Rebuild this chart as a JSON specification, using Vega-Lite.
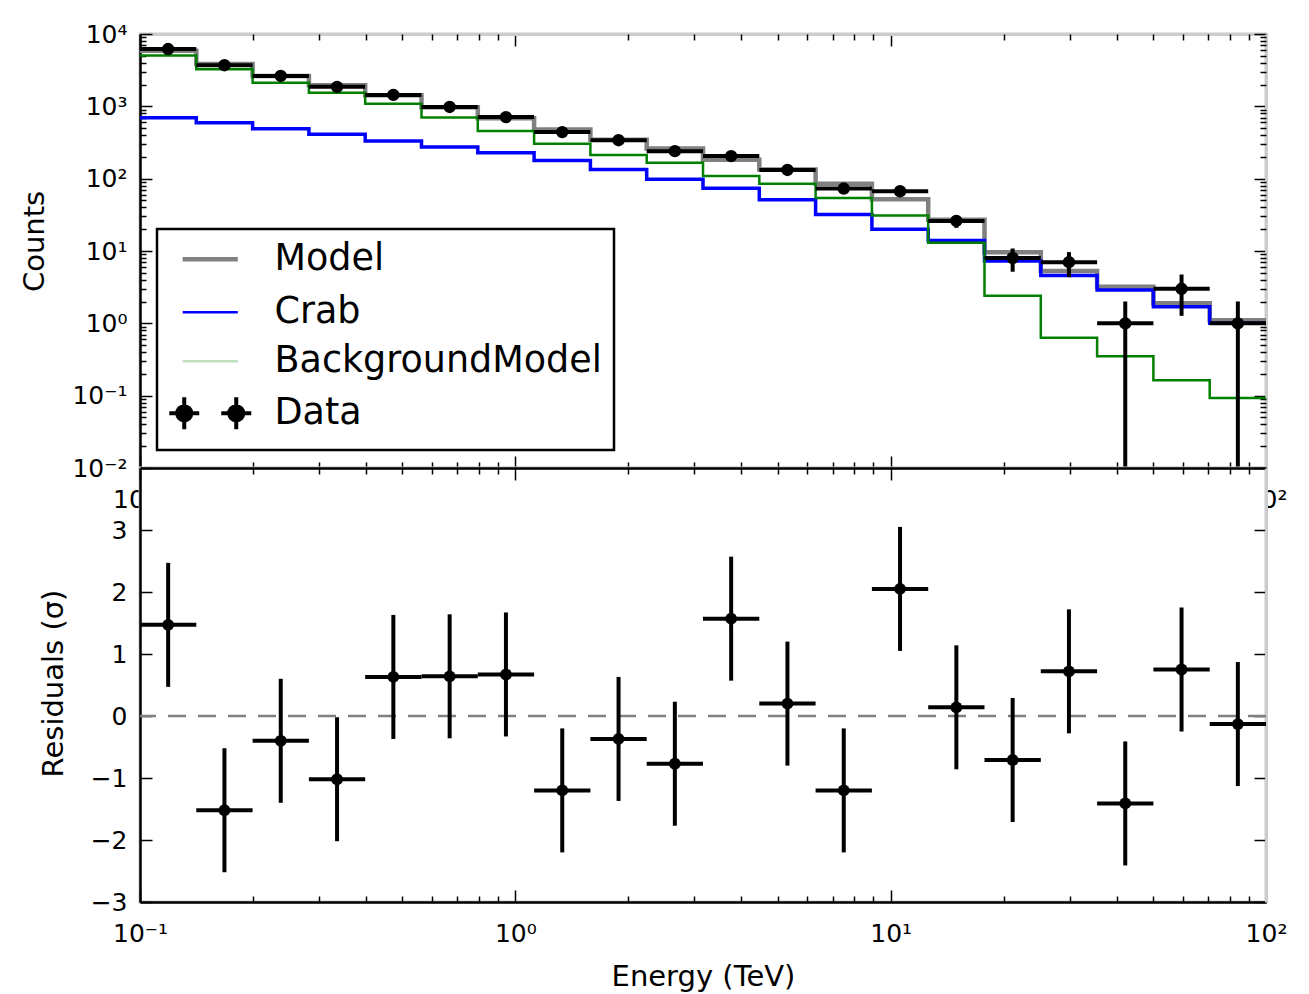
{
  "$schema": "https://vega.github.io/schema/vega-lite/v6.json",
  "padding": {"left": 18, "top": 20, "right": 10, "bottom": 5},
  "background": "white",
  "spacing": 0,
  "bounds": "flush",
  "config": {
    "font": "DejaVu Sans",
    "view": {"stroke": "#cccccc", "strokeWidth": 3, "fill": "white"},
    "axis": {"grid": false, "domainColor": "black", "domainWidth": 2.5, "tickColor": "black", "tickWidth": 1.5,
      "labelFontSize": 25, "labelColor": "black", "labelFont": "DejaVu Sans", "titleFont": "DejaVu Sans",
      "titleFontSize": 29, "titleFontWeight": "normal", "titleColor": "black",
      "labelFlush": false, "labelOverlap": false, "labelBound": false}
  },
  "datasets": {
    "bins": [
      {"e_lo": 0.1, "e_hi": 0.14125, "e_c": 0.11885, "counts": 6200, "c_lo": 6121, "c_hi": 6279, "resid": 1.47, "r_lo": 0.47, "r_hi": 2.47},
      {"e_lo": 0.14125, "e_hi": 0.19953, "e_c": 0.16788, "counts": 3700, "c_lo": 3639, "c_hi": 3761, "resid": -1.52, "r_lo": -2.52, "r_hi": -0.52},
      {"e_lo": 0.19953, "e_hi": 0.28184, "e_c": 0.23714, "counts": 2630, "c_lo": 2579, "c_hi": 2681, "resid": -0.40, "r_lo": -1.40, "r_hi": 0.60},
      {"e_lo": 0.28184, "e_hi": 0.39811, "e_c": 0.33497, "counts": 1860, "c_lo": 1817, "c_hi": 1903, "resid": -1.02, "r_lo": -2.02, "r_hi": -0.02},
      {"e_lo": 0.39811, "e_hi": 0.56234, "e_c": 0.47315, "counts": 1440, "c_lo": 1402, "c_hi": 1478, "resid": 0.63, "r_lo": -0.37, "r_hi": 1.63},
      {"e_lo": 0.56234, "e_hi": 0.79433, "e_c": 0.66834, "counts": 980, "c_lo": 949, "c_hi": 1011, "resid": 0.64, "r_lo": -0.36, "r_hi": 1.64},
      {"e_lo": 0.79433, "e_hi": 1.12202, "e_c": 0.94406, "counts": 710, "c_lo": 683, "c_hi": 737, "resid": 0.67, "r_lo": -0.33, "r_hi": 1.67},
      {"e_lo": 1.12202, "e_hi": 1.58489, "e_c": 1.33352, "counts": 440, "c_lo": 419, "c_hi": 461, "resid": -1.20, "r_lo": -2.20, "r_hi": -0.20},
      {"e_lo": 1.58489, "e_hi": 2.23872, "e_c": 1.88365, "counts": 340, "c_lo": 322, "c_hi": 358, "resid": -0.37, "r_lo": -1.37, "r_hi": 0.63},
      {"e_lo": 2.23872, "e_hi": 3.16228, "e_c": 2.66073, "counts": 240, "c_lo": 224.5, "c_hi": 255.5, "resid": -0.77, "r_lo": -1.77, "r_hi": 0.23},
      {"e_lo": 3.16228, "e_hi": 4.46684, "e_c": 3.75837, "counts": 205, "c_lo": 190.7, "c_hi": 219.3, "resid": 1.57, "r_lo": 0.57, "r_hi": 2.57},
      {"e_lo": 4.46684, "e_hi": 6.30957, "e_c": 5.30884, "counts": 132, "c_lo": 120.5, "c_hi": 143.5, "resid": 0.20, "r_lo": -0.80, "r_hi": 1.20},
      {"e_lo": 6.30957, "e_hi": 8.91251, "e_c": 7.49894, "counts": 73, "c_lo": 64.5, "c_hi": 81.5, "resid": -1.20, "r_lo": -2.20, "r_hi": -0.20},
      {"e_lo": 8.91251, "e_hi": 12.5893, "e_c": 10.5925, "counts": 67, "c_lo": 58.8, "c_hi": 75.2, "resid": 2.05, "r_lo": 1.05, "r_hi": 3.05},
      {"e_lo": 12.5893, "e_hi": 17.7828, "e_c": 14.9624, "counts": 26, "c_lo": 20.9, "c_hi": 31.1, "resid": 0.14, "r_lo": -0.86, "r_hi": 1.14},
      {"e_lo": 17.7828, "e_hi": 25.1189, "e_c": 21.1349, "counts": 8, "c_lo": 5.17, "c_hi": 10.83, "resid": -0.71, "r_lo": -1.71, "r_hi": 0.29},
      {"e_lo": 25.1189, "e_hi": 35.4813, "e_c": 29.8538, "counts": 7, "c_lo": 4.35, "c_hi": 9.65, "resid": 0.72, "r_lo": -0.28, "r_hi": 1.72},
      {"e_lo": 35.4813, "e_hi": 50.1187, "e_c": 42.1697, "counts": 1, "c_lo": 0.01, "c_hi": 2, "resid": -1.41, "r_lo": -2.41, "r_hi": -0.41},
      {"e_lo": 50.1187, "e_hi": 70.7946, "e_c": 59.5662, "counts": 3, "c_lo": 1.27, "c_hi": 4.73, "resid": 0.75, "r_lo": -0.25, "r_hi": 1.75},
      {"e_lo": 70.7946, "e_hi": 100, "e_c": 84.1395, "counts": 1, "c_lo": 0.01, "c_hi": 2, "resid": -0.13, "r_lo": -1.13, "r_hi": 0.87}
    ],
    "steps": [
      {"e": 0.1, "Model": 5850, "Crab": 695, "BackgroundModel": 5050},
      {"e": 0.14125, "Model": 3850, "Crab": 593, "BackgroundModel": 3250},
      {"e": 0.19953, "Model": 2620, "Crab": 490, "BackgroundModel": 2120},
      {"e": 0.28184, "Model": 1950, "Crab": 410, "BackgroundModel": 1540},
      {"e": 0.39811, "Model": 1420, "Crab": 331, "BackgroundModel": 1090},
      {"e": 0.56234, "Model": 970, "Crab": 274, "BackgroundModel": 700},
      {"e": 0.79433, "Model": 685, "Crab": 228, "BackgroundModel": 455},
      {"e": 1.12202, "Model": 480, "Crab": 179, "BackgroundModel": 304},
      {"e": 1.58489, "Model": 346, "Crab": 134, "BackgroundModel": 212},
      {"e": 2.23872, "Model": 262, "Crab": 98, "BackgroundModel": 166},
      {"e": 3.16228, "Model": 183, "Crab": 74, "BackgroundModel": 109},
      {"e": 4.46684, "Model": 134, "Crab": 51, "BackgroundModel": 85},
      {"e": 6.30957, "Model": 85, "Crab": 32, "BackgroundModel": 54},
      {"e": 8.91251, "Model": 52, "Crab": 20, "BackgroundModel": 31},
      {"e": 12.5893, "Model": 27, "Crab": 14, "BackgroundModel": 13},
      {"e": 17.7828, "Model": 9.6, "Crab": 7.3, "BackgroundModel": 2.4},
      {"e": 25.1189, "Model": 5.3, "Crab": 4.6, "BackgroundModel": 0.63},
      {"e": 35.4813, "Model": 3.2, "Crab": 2.9, "BackgroundModel": 0.35},
      {"e": 50.1187, "Model": 1.9, "Crab": 1.7, "BackgroundModel": 0.164},
      {"e": 70.7946, "Model": 1.1, "Crab": 1.0, "BackgroundModel": 0.093},
      {"e": 100, "Model": 1.1, "Crab": 1.0, "BackgroundModel": 0.093}
    ]
  },
  "vconcat": [
    {
      "width": 1126,
      "height": 434,
      "layer": [
        {
          "data": {"name": "steps"},
          "transform": [{"fold": ["Model", "Crab", "BackgroundModel"], "as": ["series", "v"]}],
          "mark": {"type": "line", "interpolate": "step-after"},
          "encoding": {
            "x": {"field": "e", "type": "quantitative",
              "scale": {"type": "log", "domain": [0.1, 100], "nice": false},
              "axis": {"orient": "bottom", "values": [0.1, 1, 10, 100], "tickSize": -12, "labelPadding": 31, "title": null,
                "labelExpr": "datum.value < 0.5 ? '10⁻¹' : datum.value < 5 ? '10⁰' : datum.value < 50 ? '10¹' : '10²'"}},
            "y": {"field": "v", "type": "quantitative",
              "scale": {"type": "log", "domain": [0.01, 10000], "nice": false},
              "axis": {"orient": "left", "values": [0.01, 0.1, 1, 10, 100, 1000, 10000], "tickSize": -12, "labelPadding": 25,
                "title": "Counts", "titleX": -97, "titleY": 207, "titleBaseline": "alphabetic", "titleAngle": -90, "titleAlign": "center",
                "labelExpr": "datum.value < 0.05 ? '10⁻²' : datum.value < 0.5 ? '10⁻¹' : datum.value < 5 ? '10⁰' : datum.value < 50 ? '10¹' : datum.value < 500 ? '10²' : datum.value < 5000 ? '10³' : '10⁴'"}},
            "stroke": {"field": "series", "type": "nominal",
              "scale": {"domain": ["Model", "Crab", "BackgroundModel"], "range": ["#808080", "#0000ff", "#008000"]}, "legend": null},
            "strokeWidth": {"field": "series", "type": "nominal",
              "scale": {"domain": ["Model", "Crab", "BackgroundModel"], "range": [4.5, 2.5, 2.5]}, "legend": null}
          }
        },
        {
          "data": {"name": "bins"},
          "mark": {"type": "rule", "strokeWidth": 4, "color": "black"},
          "encoding": {
            "x": {"field": "e_lo", "type": "quantitative", "scale": {"type": "log", "domain": [0.1, 100], "nice": false},
              "axis": {"orient": "bottom", "values": [0.2,0.3,0.4,0.5,0.6,0.7,0.8,0.9,2,3,4,5,6,7,8,9,20,30,40,50,60,70,80,90], "tickSize": -6, "labels": false, "domain": false, "title": null}},
            "x2": {"field": "e_hi"},
            "y": {"field": "counts", "type": "quantitative", "scale": {"type": "log", "domain": [0.01, 10000], "nice": false},
              "axis": {"orient": "left", "values": [0.02,0.03,0.04,0.05,0.06,0.07,0.08,0.09,0.2,0.3,0.4,0.5,0.6,0.7,0.8,0.9,2,3,4,5,6,7,8,9,20,30,40,50,60,70,80,90,200,300,400,500,600,700,800,900,2000,3000,4000,5000,6000,7000,8000,9000], "tickSize": -6, "labels": false, "domain": false, "title": null}}
          }
        },
        {
          "data": {"name": "bins"},
          "mark": {"type": "rule", "strokeWidth": 4, "color": "black", "clip": true},
          "encoding": {
            "x": {"field": "e_c", "type": "quantitative", "scale": {"type": "log", "domain": [0.1, 100], "nice": false},
              "axis": {"orient": "top", "values": [0.1, 1, 10, 100], "tickSize": -12, "labels": false, "domain": true, "domainColor": "#cccccc", "domainWidth": 3, "title": null}},
            "y": {"field": "c_lo", "type": "quantitative", "scale": {"type": "log", "domain": [0.01, 10000], "nice": false},
              "axis": {"orient": "right", "values": [0.01, 0.1, 1, 10, 100, 1000, 10000], "tickSize": -12, "labels": false, "domain": true, "domainColor": "#cccccc", "domainWidth": 3, "title": null}},
            "y2": {"field": "c_hi"}
          }
        },
        {
          "data": {"name": "bins"},
          "mark": {"type": "circle", "size": 154, "color": "black", "opacity": 1},
          "encoding": {
            "x": {"field": "e_c", "type": "quantitative", "scale": {"type": "log", "domain": [0.1, 100], "nice": false},
              "axis": {"orient": "top", "values": [0.2,0.3,0.4,0.5,0.6,0.7,0.8,0.9,2,3,4,5,6,7,8,9,20,30,40,50,60,70,80,90], "tickSize": -6, "labels": false, "domain": false, "title": null}},
            "y": {"field": "counts", "type": "quantitative", "scale": {"type": "log", "domain": [0.01, 10000], "nice": false},
              "axis": {"orient": "right", "values": [0.02,0.03,0.04,0.05,0.06,0.07,0.08,0.09,0.2,0.3,0.4,0.5,0.6,0.7,0.8,0.9,2,3,4,5,6,7,8,9,20,30,40,50,60,70,80,90,200,300,400,500,600,700,800,900,2000,3000,4000,5000,6000,7000,8000,9000], "tickSize": -6, "labels": false, "domain": false, "title": null}}
          }
        },
        {
          "data": {"name": "steps"},
          "transform": [{"fold": ["Model", "Crab", "BackgroundModel"], "as": ["series", "v"]}, {"filter": "false"}],
          "mark": {"type": "line"},
          "encoding": {
            "x": {"field": "e", "type": "quantitative", "scale": {"type": "log", "domain": [0.1, 100], "nice": false}, "axis": null},
            "y": {"field": "v", "type": "quantitative", "scale": {"type": "log", "domain": [0.01, 10000], "nice": false}, "axis": null},
            "color": {"field": "series", "type": "nominal",
              "scale": {"domain": ["Model", "Crab", "BackgroundModel", "Data"], "range": ["#808080", "#0000ff", "#bfe0bf", "#000000"]},
              "legend": {
                "orient": "none", "legendX": 17, "legendY": 195, "title": null,
                "labelFontSize": 36.5, "labelLimit": 600, "labelColor": "black", "labelFont": "DejaVu Sans",
                "fillColor": "white", "strokeColor": "black", "padding": 12, "cornerRadius": 0,
                "symbolSize": 1369, "rowPadding": 6, "labelOffset": 46, "symbolOffset": 23,
                "encode": {
                  "legend": {"update": {"strokeWidth": {"value": 2.5}}},
                  "symbols": {"update": {
                    "shape": {"signal": "datum.value === 'Data' ? 'M-2.215,0H-0.595M-1.405,-0.86V0.86M0.595,0H2.215M1.405,-0.86V0.86M-1.025,0A0.38,0.38,0,1,1,-1.785,0A0.38,0.38,0,1,1,-1.025,0ZM1.785,0A0.38,0.38,0,1,1,1.025,0A0.38,0.38,0,1,1,1.785,0Z' : 'M0,-0.86M0,0.86M-1.49,0H1.49'"},
                    "fill": {"signal": "datum.value === 'Data' ? '#000000' : 'transparent'"},
                    "strokeWidth": {"signal": "datum.value === 'Model' ? 4.5 : datum.value === 'Data' ? 4 : 2.5"},
                    "opacity": {"value": 1}
                  }}
                }
              }}
          }
        }
      ],
      "resolve": {"axis": {"x": "independent", "y": "independent"}}
    },
    {
      "width": 1126,
      "height": 434,
      "layer": [
        {
          "data": {"values": [{"zero": 0}]},
          "mark": {"type": "rule", "strokeDash": [18, 12], "color": "#808080", "strokeWidth": 2.5},
          "encoding": {
            "y": {"field": "zero", "type": "quantitative", "scale": {"domain": [-3, 4], "nice": false, "zero": false}, "axis": null}
          }
        },
        {
          "data": {"name": "bins"},
          "mark": {"type": "rule", "strokeWidth": 4, "color": "black"},
          "encoding": {
            "x": {"field": "e_lo", "type": "quantitative", "scale": {"type": "log", "domain": [0.1, 100], "nice": false},
              "axis": {"orient": "bottom", "values": [0.1, 1, 10, 100], "tickSize": -12, "labelPadding": 31,
                "title": "Energy (TeV)", "titleX": 563, "titleY": 83, "titleBaseline": "alphabetic", "titleAlign": "center",
                "labelExpr": "datum.value < 0.5 ? '10⁻¹' : datum.value < 5 ? '10⁰' : datum.value < 50 ? '10¹' : '10²'"}},
            "x2": {"field": "e_hi"},
            "y": {"field": "resid", "type": "quantitative", "scale": {"domain": [-3, 4], "nice": false, "zero": false},
              "axis": {"orient": "left", "values": [-3, -2, -1, 0, 1, 2, 3, 4], "tickSize": -12, "labelPadding": 25,
                "title": "Residuals (σ)", "titleX": -78, "titleY": 215, "titleBaseline": "alphabetic", "titleAngle": -90, "titleAlign": "center",
                "labelExpr": "datum.value >= 4 ? '' : datum.value < 0 ? '−' + (-datum.value) : '' + datum.value"}}
          }
        },
        {
          "data": {"name": "bins"},
          "mark": {"type": "rule", "strokeWidth": 4, "color": "black"},
          "encoding": {
            "x": {"field": "e_c", "type": "quantitative", "scale": {"type": "log", "domain": [0.1, 100], "nice": false},
              "axis": {"orient": "bottom", "values": [0.2,0.3,0.4,0.5,0.6,0.7,0.8,0.9,2,3,4,5,6,7,8,9,20,30,40,50,60,70,80,90], "tickSize": -6, "labels": false, "domain": false, "title": null}},
            "y": {"field": "r_lo", "type": "quantitative", "scale": {"domain": [-3, 4], "nice": false, "zero": false},
              "axis": {"orient": "right", "values": [-3, -2, -1, 0, 1, 2, 3, 4], "tickSize": -12, "labels": false, "domain": true, "domainColor": "#cccccc", "domainWidth": 3, "title": null}},
            "y2": {"field": "r_hi"}
          }
        },
        {
          "data": {"name": "bins"},
          "mark": {"type": "circle", "size": 140, "color": "black", "opacity": 1},
          "encoding": {
            "x": {"field": "e_c", "type": "quantitative", "scale": {"type": "log", "domain": [0.1, 100], "nice": false},
              "axis": {"orient": "top", "values": [0.1, 1, 10, 100], "tickSize": -12, "labels": false, "domain": true, "title": null}},
            "y": {"field": "resid", "type": "quantitative", "scale": {"domain": [-3, 4], "nice": false, "zero": false}, "axis": null}
          }
        },
        {
          "data": {"name": "bins"},
          "mark": {"type": "circle", "size": 10, "opacity": 0},
          "encoding": {
            "x": {"field": "e_c", "type": "quantitative", "scale": {"type": "log", "domain": [0.1, 100], "nice": false},
              "axis": {"orient": "top", "values": [0.2,0.3,0.4,0.5,0.6,0.7,0.8,0.9,2,3,4,5,6,7,8,9,20,30,40,50,60,70,80,90], "tickSize": -6, "labels": false, "domain": false, "title": null}},
            "y": {"field": "resid", "type": "quantitative", "scale": {"domain": [-3, 4], "nice": false, "zero": false}, "axis": null}
          }
        }
      ],
      "resolve": {"axis": {"x": "independent", "y": "independent"}}
    }
  ]
}
